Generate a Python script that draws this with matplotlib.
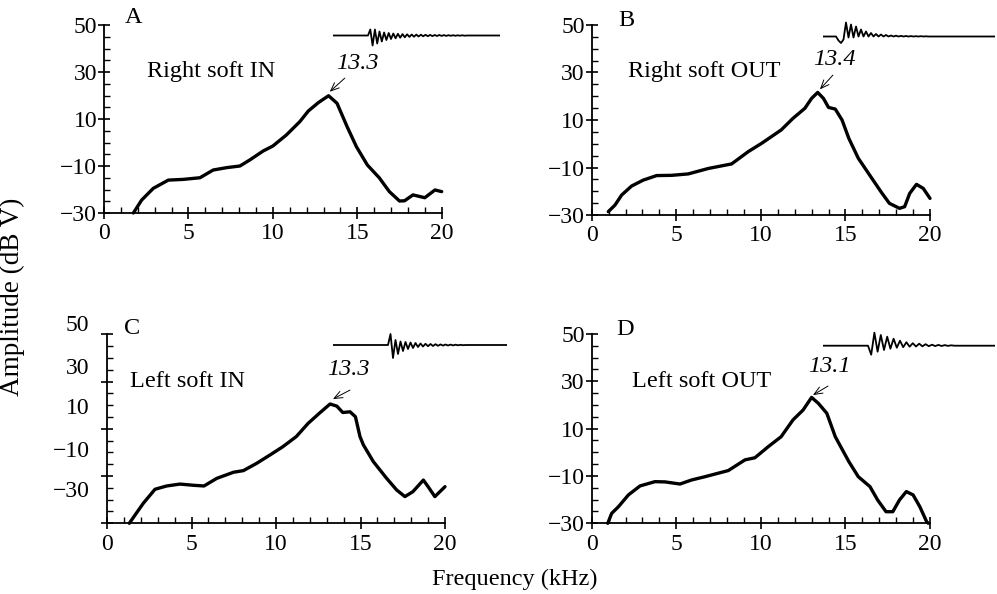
import numpy as np
import matplotlib
matplotlib.use("Agg")
import matplotlib.pyplot as plt
from matplotlib.ticker import MultipleLocator, FixedLocator, NullFormatter
from matplotlib.transforms import blended_transform_factory

plt.rcParams['font.family'] = ['Liberation Serif', 'DejaVu Serif']

# ---------------- data ----------------
freq_A = [1.74, 2.23, 2.92, 3.81, 4.69, 5.68, 6.47, 7.26, 8.05, 8.64, 9.43, 10.0,
          10.8, 11.6, 12.1, 12.7, 13.3, 13.8, 14.4, 14.95, 15.6, 16.3, 16.9, 17.5,
          17.8, 18.3, 19.0, 19.6, 20.0]
amp_A = [-30, -24.5, -19.5, -16, -15.7, -15, -11.7, -10.7, -10, -7.4, -3.6, -1.5,
         3.2, 8.9, 13.4, 17, 19.9, 16.7, 6.7, -1.8, -9.6, -15, -20.9, -24.9,
         -24.8, -22.3, -23.5, -20.2, -20.9]

freq_B = [0.98, 1.38, 1.77, 2.36, 3.05, 3.84, 4.73, 5.71, 6.9, 8.27, 9.26, 10.05,
          11.2, 11.9, 12.6, 13.0, 13.36, 13.7, 14.0, 14.4, 14.8, 15.2, 15.76, 16.5,
          17.1, 17.6, 18.2, 18.5, 18.8, 19.2, 19.6, 20.0]
amp_B = [-28.6, -25.8, -21.6, -17.8, -15.3, -13.4, -13.3, -12.7, -10.4, -8.5, -3.3, 0.2,
         5.8, 10.7, 14.9, 19.1, 21.6, 19.1, 15.3, 14.6, 10, 2.3, -6.1, -13.9,
         -20.2, -25.1, -27.2, -26.5, -20.9, -17.1, -18.8, -23]

freq_C = [1.32, 1.66, 2.15, 2.84, 3.53, 4.32, 5.1, 5.74, 6.49, 7.48, 8.07, 8.86,
          9.64, 10.4, 11.2, 11.9, 12.6, 13.2, 13.6, 13.95, 14.38, 14.7, 14.97, 15.17,
          15.76, 16.55, 17.14, 17.63, 18.1, 18.72, 19.0, 19.4, 20.0]
amp_C = [-30, -26.5, -21.5, -15.6, -14.2, -13.4, -13.9, -14.2, -11, -8.4, -7.7, -4.6,
         -1.1, 2.4, 6.7, 12.3, 16.8, 20.5, 19.6, 16.9, 17.2, 15.1, 6.7, 3.2,
         -3.9, -11, -15.9, -18.7, -16.6, -11.7, -14.5, -18.7, -14.5]

freq_D = [0.95, 1.18, 1.58, 2.17, 2.86, 3.74, 4.33, 5.22, 5.9, 6.7, 8.08, 9.06,
          9.65, 10.44, 11.2, 11.9, 12.5, 13.0, 13.4, 13.9, 14.4, 15.2, 15.76, 16.45,
          16.9, 17.4, 17.8, 18.2, 18.6, 19.0, 19.4, 19.8, 19.9]
amp_D = [-30, -25.8, -23, -18, -14.2, -12.4, -12.5, -13.4, -11.7, -10.3, -7.7, -3.2,
         -2.3, 2.4, 6.6, 13.7, 17.9, 23.2, 20.7, 16.5, 6.6, -3.9, -10.3, -14.5,
         -20.1, -25.1, -25.1, -20.1, -16.6, -18, -23, -29.3, -30]

panel_letters = ["A", "B", "C", "D"]
panel_titles = ["Right soft IN", "Right soft OUT", "Left soft IN", "Left soft OUT"]
peak_labels = ["13.3", "13.4", "13.3", "13.1"]

y_ticks = [-30, -10, 10, 30, 50]
y_tick_labels = ["\u221230", "\u221210", "10", "30", "50"]
x_ticks = [0, 5, 10, 15, 20]
# panel C prints its y labels shifted from the tick marks
label_pos_C = [-16.6, 0.3, 18.4, 35.6, 53.9]

# sound-pulse traces (amplitude samples at half-period steps, arbitrary units)
wave_A = [0, 6, -10, 6, -8, 4, -6, 3, -4.5, 2.5, -3.5, 2, -2.8, 1.7, -2.2, 1.4, -1.8,
          1.2, -1.4, 1, -1.2, 0.9, -1, 0.8, -0.8, 0.7, -0.7, 0.6, -0.6, 0.5, -0.5,
          0.5, -0.4, 0.4, -0.4, 0.3, -0.3, 0.3, -0.3, 0.2, -0.2, 0.2, -0.2, 0]
wave_B = [0, -4, -6.5, -3, 14, -1, 12, -1, 10, 0, 7, 0, 5, 0, 3.5, 0, 2.5, 0, 2, 0,
          1.5, 0, 1, 0, 0.8, 0, 0.6, 0, 0.5, 0, 0.4, 0, 0.3, 0, 0.3, 0, 0.2, 0]
wave_C = [0, 11, -13, 5, -9, 3.5, -6, 3, -4, 2.5, -3, 2, -2, 1.5, -1.5, 1.2, -1.2,
          1, -1, 0.8, -0.8, 0.6, -0.6, 0.5, -0.5, 0.4, -0.4, 0.3, -0.3, 0.2, -0.2, 0]
wave_D = [0, -9, 13, -6, 10.7, -4.3, 9, -3, 7, -2, 5, -1.5, 3.5, -1, 2.5, -0.8, 2,
          -0.6, 1.5, -0.5, 1, -0.4, 0.8, -0.3, 0.6, -0.2, 0.4, 0]

freqs = [freq_A, freq_B, freq_C, freq_D]
amps = [amp_A, amp_B, amp_C, amp_D]
waves = [wave_A, wave_B, wave_C, wave_D]

# ---------------- layout (pixels) ----------------
W, H = 997, 594
fig = plt.figure(figsize=(W / 100, H / 100), dpi=100)

def px_axes(x0, x1, ytop, ybot):
    return fig.add_axes([x0 / W, 1 - ybot / H, (x1 - x0) / W, (ybot - ytop) / H])

axes_px = [(104, 441.7, 25, 213), (591.7, 930, 25, 215),
           (107, 445, 334.3, 523.3), (591.7, 930, 334, 523.3)]
letter_pos = [(1.72, 53), (2.07, 52.1), (1.46, 52.5), (1.97, 52.1)]
title_pos = [(2.54, 30.1), (2.15, 30.3), (1.36, 29.9), (2.36, 29.8)]
peak_text_pos = [(15.0, 33.8), (14.32, 35.3), (14.26, 34.9), (14.08, 36.1)]
arrow_tail = [(14.26, 27.4), (14.26, 28.9), (14.38, 26.4), (13.97, 28.0)]
arrow_tip = [(13.37, 21.6), (13.49, 22.9), (13.37, 22.6), (13.08, 24.2)]
# (x0, x1, ycenter, onset, half-period) in pixels
wave_px = [(333, 500, 35.5, 35, 2.3), (823, 995, 36.5, 13, 2.5),
           (333, 507, 345, 55, 2.5), (823, 995, 345.7, 45, 3.2)]

FS_TICK = 17
FS_TEXT = 17.5

for i in range(4):
    ax = px_axes(*axes_px[i])
    ax.plot(freqs[i], amps[i], color='black', lw=2.4, solid_joinstyle='round',
            solid_capstyle='round', clip_on=False)
    ax.set_xlim(0, 20)
    ax.set_ylim(-30, 50)
    for s in ('top', 'right'):
        ax.spines[s].set_visible(False)
    for s in ('left', 'bottom'):
        ax.spines[s].set_linewidth(1.3)
    ax.xaxis.set_major_locator(FixedLocator(x_ticks))
    ax.xaxis.set_minor_locator(MultipleLocator(1))
    ax.yaxis.set_major_locator(FixedLocator(y_ticks))
    ax.yaxis.set_minor_locator(MultipleLocator(5))
    ax.set_xticklabels([str(v) for v in x_ticks])
    ax.tick_params(which='major', direction='inout', length=9, width=1.2,
                   labelsize=FS_TICK, color='black')
    ax.tick_params(axis='y', which='major', pad=0.5)
    ax.tick_params(axis='x', which='major', pad=3)
    ax.tick_params(which='minor', direction='in', length=4.5, width=1.0)
    if i == 2:
        ax.yaxis.set_major_formatter(NullFormatter())
        tr = blended_transform_factory(ax.transAxes, ax.transData)
        for p, lab in zip(label_pos_C, y_tick_labels):
            ax.text(-0.052, p, lab, transform=tr, ha='right', va='center',
                    fontsize=FS_TICK, clip_on=False)
    else:
        ax.set_yticklabels(y_tick_labels)

    ax.text(*letter_pos[i], panel_letters[i], fontsize=FS_TEXT, ha='center',
            va='center', clip_on=False)
    ax.text(*title_pos[i], panel_titles[i], fontsize=FS_TEXT, ha='left',
            va='center')
    ax.text(*peak_text_pos[i], peak_labels[i], fontsize=FS_TEXT, ha='center',
            va='center', style='italic')
    ax.annotate('', xy=arrow_tip[i], xytext=arrow_tail[i],
                arrowprops=dict(arrowstyle='->,head_length=0.6,head_width=0.25',
                                lw=0.7, color='black', shrinkA=0, shrinkB=0))

    # pulse trace inset
    x0, x1, yc, onset, half = wave_px[i]
    wax = fig.add_axes([x0 / W, 1 - (yc + 16) / H, (x1 - x0) / W, 32 / H])
    wax.axis('off')
    w = waves[i]
    t = np.concatenate([[0], onset + half * np.arange(len(w)), [x1 - x0]])
    v = np.concatenate([[0], w, [0]])
    wax.plot(t, v, color='black', lw=1.3)
    wax.set_xlim(0, x1 - x0)
    wax.set_ylim(-16, 16)

fig.text(515 / W, 1 - 579 / H, "Frequency (kHz)", fontsize=FS_TEXT,
         ha='center', va='center')
fig.text(12 / W, 1 - 297 / H, "Amplitude (dB V)", fontsize=19.5,
         ha='center', va='center', rotation=90)

fig.savefig("out.png", dpi=100)
